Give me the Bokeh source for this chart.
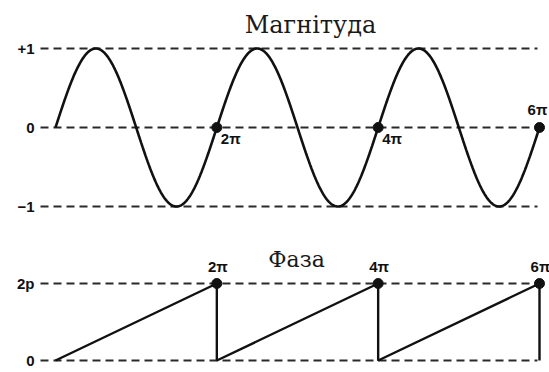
import numpy as np
from bokeh.plotting import figure
from bokeh.layouts import column
from bokeh.models import Range1d
from bokeh.core.properties import value
from bokeh.embed import file_html
from bokeh.resources import INLINE

PI = np.pi

# --- chart content -------------------------------------------------------
mag_title = "Магнітуда"
phase_title = "Фаза"

mag_levels = [1, 0, -1]
mag_level_labels = ["+1", "0", "\u22121"]

phase_levels = [2 * PI, 0]
phase_level_labels = ["2p", "0"]

turn_x = [2 * PI, 4 * PI, 6 * PI]
turn_labels = ["2\u03c0", "4\u03c0", "6\u03c0"]

# sawtooth phase: ramps 0 -> 2pi each turn, then drops back to 0
phase_x = [0, 2 * PI, 2 * PI, 4 * PI, 4 * PI, 6 * PI, 6 * PI]
phase_y = [0, 2 * PI, 0, 2 * PI, 0, 2 * PI, 0]

# magnitude: unit sine over three full turns
t = np.linspace(0, 6 * PI, 900)
mag = np.sin(t)

# --- geometry ------------------------------------------------------------
W = 549
H_TOP, H_BOT = 230, 142
X0_PX = 55                      # pixel column of t = 0
KX = 484 / (6 * PI)             # pixels per radian horizontally
x_range = Range1d(-X0_PX / KX, (W - X0_PX) / KX)

KY_TOP = 79                     # pixels per unit of magnitude
top_y = Range1d(-1 - (H_TOP - 206) / KY_TOP, 1 + 48 / KY_TOP)

KY_BOT = 77 / (2 * PI)          # pixels per radian of phase
bot_y = Range1d(-(H_BOT - 130) / KY_BOT, 2 * PI + 53 / KY_BOT)

def px(xp):
    return (xp - X0_PX) / KX

INK = "#111111"
DASH = "#2a2a2a"
LABEL_FONT = value("Liberation Sans")
TITLE_FONT = value("DejaVu Serif")


def base_fig(h, yr):
    p = figure(width=W, height=h, x_range=x_range, y_range=yr,
               x_axis_type=None, y_axis_type=None,
               toolbar_location=None, output_backend="svg",
               min_border=0, outline_line_color=None,
               background_fill_color="white", border_fill_color="white")
    p.grid.visible = False
    return p


def guides(p, levels, labels):
    n = len(levels)
    p.segment(x0=[px(40)] * n, x1=[px(537)] * n, y0=levels, y1=levels,
              line_color=DASH, line_width=2.2, line_dash="8 5")
    p.text(x=[px(34)] * n, y=levels, text=labels, text_align="right",
           text_baseline="middle", text_font=LABEL_FONT,
           text_font_style="bold", text_font_size="15px", text_color=INK)


# --- magnitude panel -----------------------------------------------------
top = base_fig(H_TOP, top_y)
guides(top, mag_levels, mag_level_labels)
top.line(t, mag, line_color=INK, line_width=2.6)
top.scatter(turn_x, [0] * 3, size=10, color=INK)
top.text(x=turn_x[:2], y=[0, 0], text=turn_labels[:2], x_offset=4, y_offset=11,
         text_align="left", text_baseline="middle", text_font=LABEL_FONT,
         text_font_style="bold", text_font_size="15px", text_color=INK)
top.text(x=[turn_x[2]], y=[0], text=[turn_labels[2]], x_offset=-2, y_offset=-18,
         text_align="center", text_baseline="middle", text_font=LABEL_FONT,
         text_font_style="bold", text_font_size="15px", text_color=INK)
top.text(x=[px(310)], y=[1 + (48 - 24) / KY_TOP], text=[mag_title],
         text_align="center", text_baseline="alphabetic", text_font=TITLE_FONT,
         text_font_size="24px", text_color="#1a1a1a")

# --- phase panel ---------------------------------------------------------
bot = base_fig(H_BOT, bot_y)
guides(bot, phase_levels, phase_level_labels)
bot.line(phase_x, phase_y, line_color=INK, line_width=2.4)
bot.scatter(turn_x, [2 * PI] * 3, size=10, color=INK)
bot.text(x=turn_x, y=[2 * PI] * 3, text=turn_labels, x_offset=1, y_offset=-17,
         text_align="center", text_baseline="middle", text_font=LABEL_FONT,
         text_font_style="bold", text_font_size="15px", text_color=INK)
bot.text(x=[px(296)], y=[2 * PI + (53 - 29) / KY_BOT], text=[phase_title],
         text_align="center", text_baseline="alphabetic", text_font=TITLE_FONT,
         text_font_size="22px", text_color="#1a1a1a")

layout = column(top, bot, spacing=0)
open("out.html", "w").write(file_html(layout, INLINE))
